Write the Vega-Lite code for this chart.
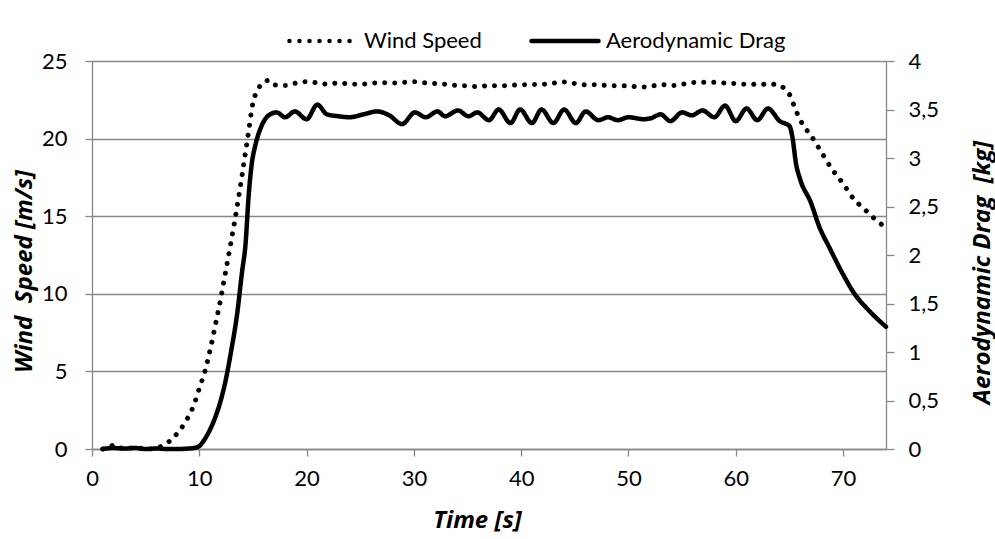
{
  "$schema": "https://vega.github.io/schema/vega-lite/v6.json",
  "autosize": {"type": "none"},
  "padding": {"left": 92, "top": 61, "right": 109, "bottom": 90},
  "width": 794,
  "height": 388,
  "background": "white",
  "config": {
    "view": {"stroke": null},
    "font": "Lato",
    "axis": {
      "labelFont": "Lato",
      "labelFontSize": 22,
      "labelColor": "black",
      "titleFont": "Open Sans",
      "titleFontSize": 24,
      "titleFontWeight": "bold",
      "titleFontStyle": "italic",
      "titleColor": "black",
      "domainColor": "#878787",
      "tickColor": "#878787",
      "gridColor": "#878787",
      "domainWidth": 1.3,
      "tickWidth": 1.3,
      "gridWidth": 1.3
    }
  },
  "datasets": {
    "wind": [
      {"t": 1, "v": 0}, {"t": 1.5, "v": 0.05}, {"t": 2, "v": 0.25}, {"t": 2.5, "v": 0.05}, {"t": 3, "v": 0.1},
      {"t": 4, "v": 0.05}, {"t": 5, "v": 0.05}, {"t": 5.5, "v": 0}, {"t": 6, "v": 0.05}, {"t": 6.65, "v": 0.25},
      {"t": 7.35, "v": 0.57}, {"t": 8, "v": 1.05}, {"t": 8.6, "v": 1.63}, {"t": 9, "v": 2.1}, {"t": 9.5, "v": 2.85},
      {"t": 10, "v": 3.9}, {"t": 10.5, "v": 4.95}, {"t": 11, "v": 6.35}, {"t": 11.5, "v": 8.0}, {"t": 12, "v": 9.7},
      {"t": 12.5, "v": 11.6}, {"t": 13, "v": 13.5}, {"t": 13.5, "v": 15.5}, {"t": 14, "v": 17.7}, {"t": 14.5, "v": 20.0},
      {"t": 15, "v": 22.3}, {"t": 15.5, "v": 23.2}, {"t": 16, "v": 23.65}, {"t": 16.5, "v": 23.75}, {"t": 17, "v": 23.46},
      {"t": 18, "v": 23.42}, {"t": 19, "v": 23.58}, {"t": 20, "v": 23.67}, {"t": 21, "v": 23.59}, {"t": 22, "v": 23.5},
      {"t": 23, "v": 23.59}, {"t": 24, "v": 23.52}, {"t": 25, "v": 23.5}, {"t": 26, "v": 23.57}, {"t": 27, "v": 23.6},
      {"t": 28, "v": 23.58}, {"t": 29, "v": 23.62}, {"t": 30, "v": 23.66}, {"t": 31, "v": 23.6}, {"t": 32, "v": 23.55},
      {"t": 33, "v": 23.5}, {"t": 34, "v": 23.42}, {"t": 35, "v": 23.4}, {"t": 36, "v": 23.35}, {"t": 37, "v": 23.42},
      {"t": 38, "v": 23.4}, {"t": 39, "v": 23.43}, {"t": 40, "v": 23.47}, {"t": 41, "v": 23.48}, {"t": 42, "v": 23.5},
      {"t": 43, "v": 23.58}, {"t": 44, "v": 23.65}, {"t": 45, "v": 23.55}, {"t": 46, "v": 23.46}, {"t": 47, "v": 23.47},
      {"t": 48, "v": 23.42}, {"t": 49, "v": 23.4}, {"t": 50, "v": 23.4}, {"t": 51, "v": 23.32}, {"t": 52, "v": 23.36},
      {"t": 53, "v": 23.48}, {"t": 54, "v": 23.42}, {"t": 55, "v": 23.5}, {"t": 56, "v": 23.62}, {"t": 57, "v": 23.63},
      {"t": 58, "v": 23.63}, {"t": 59, "v": 23.58}, {"t": 60, "v": 23.55}, {"t": 61, "v": 23.5}, {"t": 62, "v": 23.5},
      {"t": 63, "v": 23.5}, {"t": 63.7, "v": 23.5}, {"t": 64.5, "v": 23.25}, {"t": 65, "v": 22.85}, {"t": 65.5, "v": 22.0},
      {"t": 66, "v": 21.2}, {"t": 66.5, "v": 20.65}, {"t": 67, "v": 20.2}, {"t": 68, "v": 19.1}, {"t": 69, "v": 18.0},
      {"t": 70, "v": 17.1}, {"t": 71, "v": 16.1}, {"t": 72, "v": 15.45}, {"t": 73, "v": 14.8}, {"t": 74, "v": 14.25}
    ],
    "drag": [
      {"t": 1, "d": 0}, {"t": 2, "d": 0.01}, {"t": 3, "d": 0.005}, {"t": 4, "d": 0.01}, {"t": 5, "d": 0},
      {"t": 6, "d": 0.005}, {"t": 7, "d": 0}, {"t": 8, "d": 0}, {"t": 9, "d": 0.005}, {"t": 9.5, "d": 0.01},
      {"t": 10, "d": 0.03}, {"t": 10.5, "d": 0.1}, {"t": 11, "d": 0.2}, {"t": 11.5, "d": 0.33}, {"t": 12, "d": 0.5},
      {"t": 12.5, "d": 0.73}, {"t": 13, "d": 1.03}, {"t": 13.5, "d": 1.37}, {"t": 14, "d": 1.84}, {"t": 14.3, "d": 2.1},
      {"t": 14.6, "d": 2.61}, {"t": 14.9, "d": 2.95}, {"t": 15.2, "d": 3.12}, {"t": 15.8, "d": 3.33}, {"t": 16.6, "d": 3.45},
      {"t": 17.2, "d": 3.47}, {"t": 18, "d": 3.42}, {"t": 18.9, "d": 3.48}, {"t": 20, "d": 3.4}, {"t": 21, "d": 3.55},
      {"t": 21.9, "d": 3.45}, {"t": 23, "d": 3.43}, {"t": 24, "d": 3.42}, {"t": 25.3, "d": 3.45}, {"t": 26.6, "d": 3.48},
      {"t": 27.7, "d": 3.44}, {"t": 28.9, "d": 3.35}, {"t": 30.1, "d": 3.47}, {"t": 31.1, "d": 3.42}, {"t": 32.2, "d": 3.48},
      {"t": 32.9, "d": 3.43}, {"t": 34.1, "d": 3.49}, {"t": 35.1, "d": 3.43}, {"t": 35.9, "d": 3.47}, {"t": 37, "d": 3.39},
      {"t": 37.9, "d": 3.5}, {"t": 39, "d": 3.36}, {"t": 39.9, "d": 3.5}, {"t": 41, "d": 3.36}, {"t": 41.9, "d": 3.5},
      {"t": 43, "d": 3.36}, {"t": 44, "d": 3.5}, {"t": 45.1, "d": 3.36}, {"t": 46, "d": 3.48}, {"t": 47.2, "d": 3.39},
      {"t": 48.1, "d": 3.42}, {"t": 49, "d": 3.39}, {"t": 50, "d": 3.42}, {"t": 51.4, "d": 3.4}, {"t": 52.1, "d": 3.41},
      {"t": 53, "d": 3.45}, {"t": 53.9, "d": 3.38}, {"t": 55, "d": 3.47}, {"t": 55.9, "d": 3.44}, {"t": 56.9, "d": 3.49},
      {"t": 58, "d": 3.42}, {"t": 59, "d": 3.54}, {"t": 60, "d": 3.38}, {"t": 61, "d": 3.51}, {"t": 62, "d": 3.39},
      {"t": 63, "d": 3.51}, {"t": 64.1, "d": 3.38}, {"t": 65, "d": 3.33}, {"t": 65.3, "d": 3.2}, {"t": 65.6, "d": 2.95},
      {"t": 66, "d": 2.78}, {"t": 67, "d": 2.54}, {"t": 67.75, "d": 2.3}, {"t": 68.8, "d": 2.06}, {"t": 69.9, "d": 1.82},
      {"t": 71, "d": 1.61}, {"t": 72.3, "d": 1.44}, {"t": 73.2, "d": 1.34}, {"t": 74, "d": 1.26}
    ]
  },
  "layer": [
    {
      "data": {"name": "wind"},
      "mark": {"type": "line", "color": "black", "strokeWidth": 5, "strokeCap": "round", "interpolate": "monotone"},
      "encoding": {
        "x": {
          "field": "t", "type": "quantitative",
          "scale": {"domain": [0, 74], "nice": false, "zero": false},
          "axis": {
            "title": "Time [s]", "values": [0, 10, 20, 30, 40, 50, 60, 70], "grid": false,
            "tickSize": 7, "labelPadding": 12, "labelFlush": false,
            "titleX": 385, "titleY": 78, "titleAlign": "center", "titleBaseline": "alphabetic"
          }
        },
        "y": {
          "field": "v", "type": "quantitative",
          "scale": {"domain": [0, 25], "nice": false},
          "axis": {
            "orient": "left", "title": "Wind\u00a0 Speed [m/s]", "values": [0, 5, 10, 15, 20, 25], "grid": true,
            "tickSize": 7, "labelPadding": 18,
            "titleAngle": 270, "titleX": -68, "titleY": 210, "titleAlign": "center", "titleBaseline": "middle"
          }
        },
        "strokeDash": {
          "datum": "Wind Speed", "type": "nominal",
          "scale": {"domain": ["Wind Speed", "Aerodynamic Drag"], "range": [[0.01, 10], [1, 0]]},
          "legend": {
            "title": null, "orient": "none", "direction": "horizontal",
            "legendX": 195, "legendY": -56,
            "symbolType": "stroke", "symbolSize": 4500, "symbolStrokeWidth": 4.5,
            "symbolStrokeColor": "black", "labelFont": "Lato", "labelFontSize": 22, "labelColor": "black",
            "labelLimit": 0, "labelOffset": 5, "columnPadding": 40,
            "encode": {"symbols": {"update": {"strokeCap": {"value": "round"}}}}
          }
        }
      }
    },
    {
      "data": {"name": "drag"},
      "mark": {"type": "line", "color": "black", "strokeWidth": 4.5, "strokeCap": "round", "interpolate": "monotone"},
      "encoding": {
        "x": {"field": "t", "type": "quantitative"},
        "y": {
          "field": "d", "type": "quantitative",
          "scale": {"domain": [0, 4], "nice": false},
          "axis": {
            "orient": "right", "title": "Aerodynamic Drag\u00a0 [kg]",
            "values": [0, 0.5, 1, 1.5, 2, 2.5, 3, 3.5, 4], "grid": false,
            "labelExpr": "replace(format(datum.value, '.1~f'), '.', ',')",
            "tickSize": 8, "labelPadding": 14,
            "titleAngle": 270, "titleX": 96, "titleY": 211, "titleAlign": "center", "titleBaseline": "middle"
          }
        },
        "strokeDash": {"datum": "Aerodynamic Drag", "type": "nominal"}
      }
    }
  ],
  "resolve": {"scale": {"y": "independent"}}
}
